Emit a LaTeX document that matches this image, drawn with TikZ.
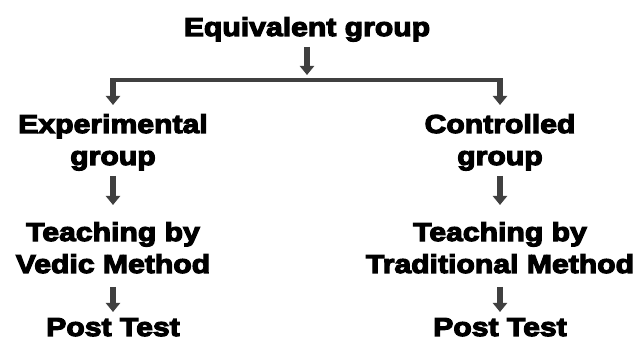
\documentclass[tikz,border=0pt]{standalone}
\usepackage{fontspec}
\setmainfont{Liberation Sans}[BoldFont={* Bold},BoldFeatures={FakeStretch=1.16,FakeBold=4.5}]
\usetikzlibrary{arrows.meta}
\begin{document}
\begin{tikzpicture}[x=1pt,y=-1pt,
  lbl/.style={font=\fontsize{26}{32}\selectfont\bfseries, align=center, inner sep=0pt, anchor=base, text=black},
  arr/.style={draw=black!75, line width=5.5pt, -{Triangle[length=9pt,width=14pt]}},
  bar/.style={draw=black!75, line width=4pt}]
\useasboundingbox (0,0) rectangle (641,342);
\node[lbl] (eq) at (307,36) {Equivalent group};
\node[lbl] (exp) at (113,165) {Experimental\\group};
\node[lbl] (ctl) at (500,165) {Controlled\\group};
\node[lbl] (tv) at (113,273) {Teaching by\\Vedic Method};
\node[lbl] (tt) at (500,273) {Teaching by\\Traditional Method};
\node[lbl] (pl) at (113,336) {Post Test};
\node[lbl] (pr) at (500,336) {Post Test};
\coordinate (bl) at (113,80);
\coordinate (br) at (500,80);
\coordinate (bm) at (307,75);
\draw[bar] ([xshift=-2.75pt]bl) -- ([xshift=2.75pt]br);
\draw[arr] (eq.south |- 0,47) -- (bm);
\draw[arr] (bl) -- (113,105);
\draw[arr] (br) -- (500,105);
\draw[arr] (exp.south |- 0,176) -- (exp.south |- 0,205);
\draw[arr] (ctl.south |- 0,176) -- (ctl.south |- 0,205);
\draw[arr] (tv.south |- 0,287) -- (tv.south |- 0,312);
\draw[arr] (tt.south |- 0,287) -- (tt.south |- 0,312);
\end{tikzpicture}
\end{document}
